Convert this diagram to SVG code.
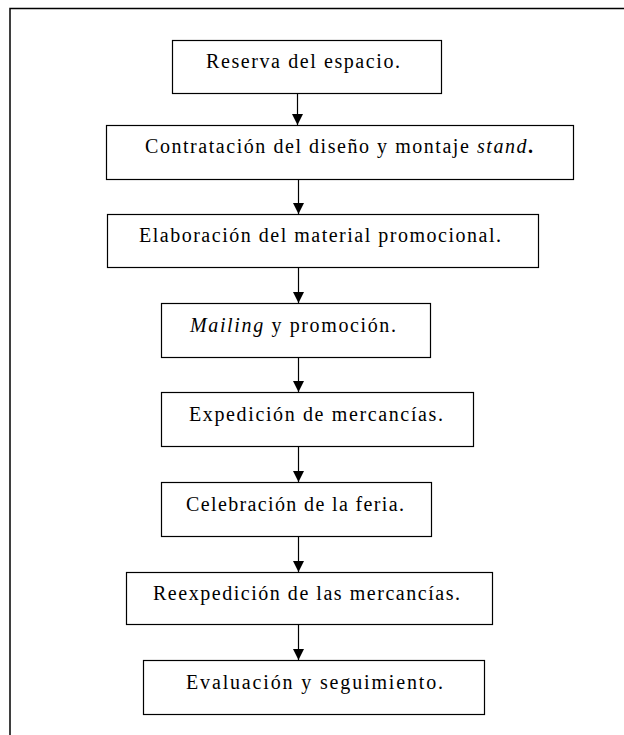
<svg xmlns="http://www.w3.org/2000/svg" width="624" height="735" viewBox="0 0 624 735">
  <style>
    .box { fill: #fff; stroke: #000; stroke-width: 1.2; }
    .lbl { font-size: 20px; fill: #000; }
    .it { font-style: italic; }
    .link { stroke: #000; stroke-width: 1.2; fill: none; marker-end: url(#head); }
    .frame { stroke: #000; stroke-width: 1.5; fill: none; }
  </style>
  <defs>
    <marker id="head" markerUnits="userSpaceOnUse" markerWidth="11" markerHeight="11" refX="11" refY="5.5" orient="auto">
      <path d="M0,0 L11,5.5 L0,11 Z" fill="#000"/>
    </marker>
  </defs>
  <rect width="624" height="735" fill="#fff"/>

  <!-- surrounding frame: top and left edges only -->
  <path class="frame" d="M10,735 V8.5 H624"/>

  <g id="connectors">
    <line class="link" x1="297.5" y1="93" x2="297.5" y2="125"/>
    <line class="link" x1="298.5" y1="179" x2="298.5" y2="214"/>
    <line class="link" x1="298.5" y1="267" x2="298.5" y2="303"/>
    <line class="link" x1="298.5" y1="357" x2="298.5" y2="392"/>
    <line class="link" x1="298.5" y1="446" x2="298.5" y2="482"/>
    <line class="link" x1="298.5" y1="536" x2="298.5" y2="572"/>
    <line class="link" x1="298.5" y1="624" x2="298.5" y2="660"/>
  </g>

  <g font-family="'Liberation Serif', 'DejaVu Serif', 'Times New Roman', serif">
    <g id="reserva">
      <rect class="box" x="172.5" y="40.5" width="269" height="53"/>
      <text class="lbl" x="206" y="68" textLength="194" lengthAdjust="spacing">Reserva del espacio.</text>
    </g>
    <g id="contratacion">
      <rect class="box" x="106.5" y="125.5" width="467" height="54"/>
      <text class="lbl" x="145" y="153" textLength="388" lengthAdjust="spacing">Contratación del diseño y montaje <tspan class="it">stand</tspan><tspan font-weight="bold">.</tspan></text>
    </g>
    <g id="elaboracion">
      <rect class="box" x="107.5" y="214.5" width="431" height="53"/>
      <text class="lbl" x="139" y="242" textLength="362" lengthAdjust="spacing">Elaboración del material promocional.</text>
    </g>
    <g id="mailing">
      <rect class="box" x="161.5" y="303.5" width="269" height="54"/>
      <text class="lbl" x="190" y="332" textLength="206" lengthAdjust="spacing"><tspan class="it">Mailing</tspan> y promoción.</text>
    </g>
    <g id="expedicion">
      <rect class="box" x="161.5" y="392.5" width="312" height="54"/>
      <text class="lbl" x="189" y="421" textLength="254" lengthAdjust="spacing">Expedición de mercancías.</text>
    </g>
    <g id="celebracion">
      <rect class="box" x="161.5" y="482.5" width="270" height="54"/>
      <text class="lbl" x="186" y="511" textLength="218" lengthAdjust="spacing">Celebración de la feria.</text>
    </g>
    <g id="reexpedicion">
      <rect class="box" x="126.5" y="572.5" width="366" height="52"/>
      <text class="lbl" x="153" y="600" textLength="307" lengthAdjust="spacing">Reexpedición de las mercancías.</text>
    </g>
    <g id="evaluacion">
      <rect class="box" x="143.5" y="660.5" width="341" height="54"/>
      <text class="lbl" x="186" y="689" textLength="257" lengthAdjust="spacing">Evaluación y seguimiento.</text>
    </g>
  </g>
</svg>
